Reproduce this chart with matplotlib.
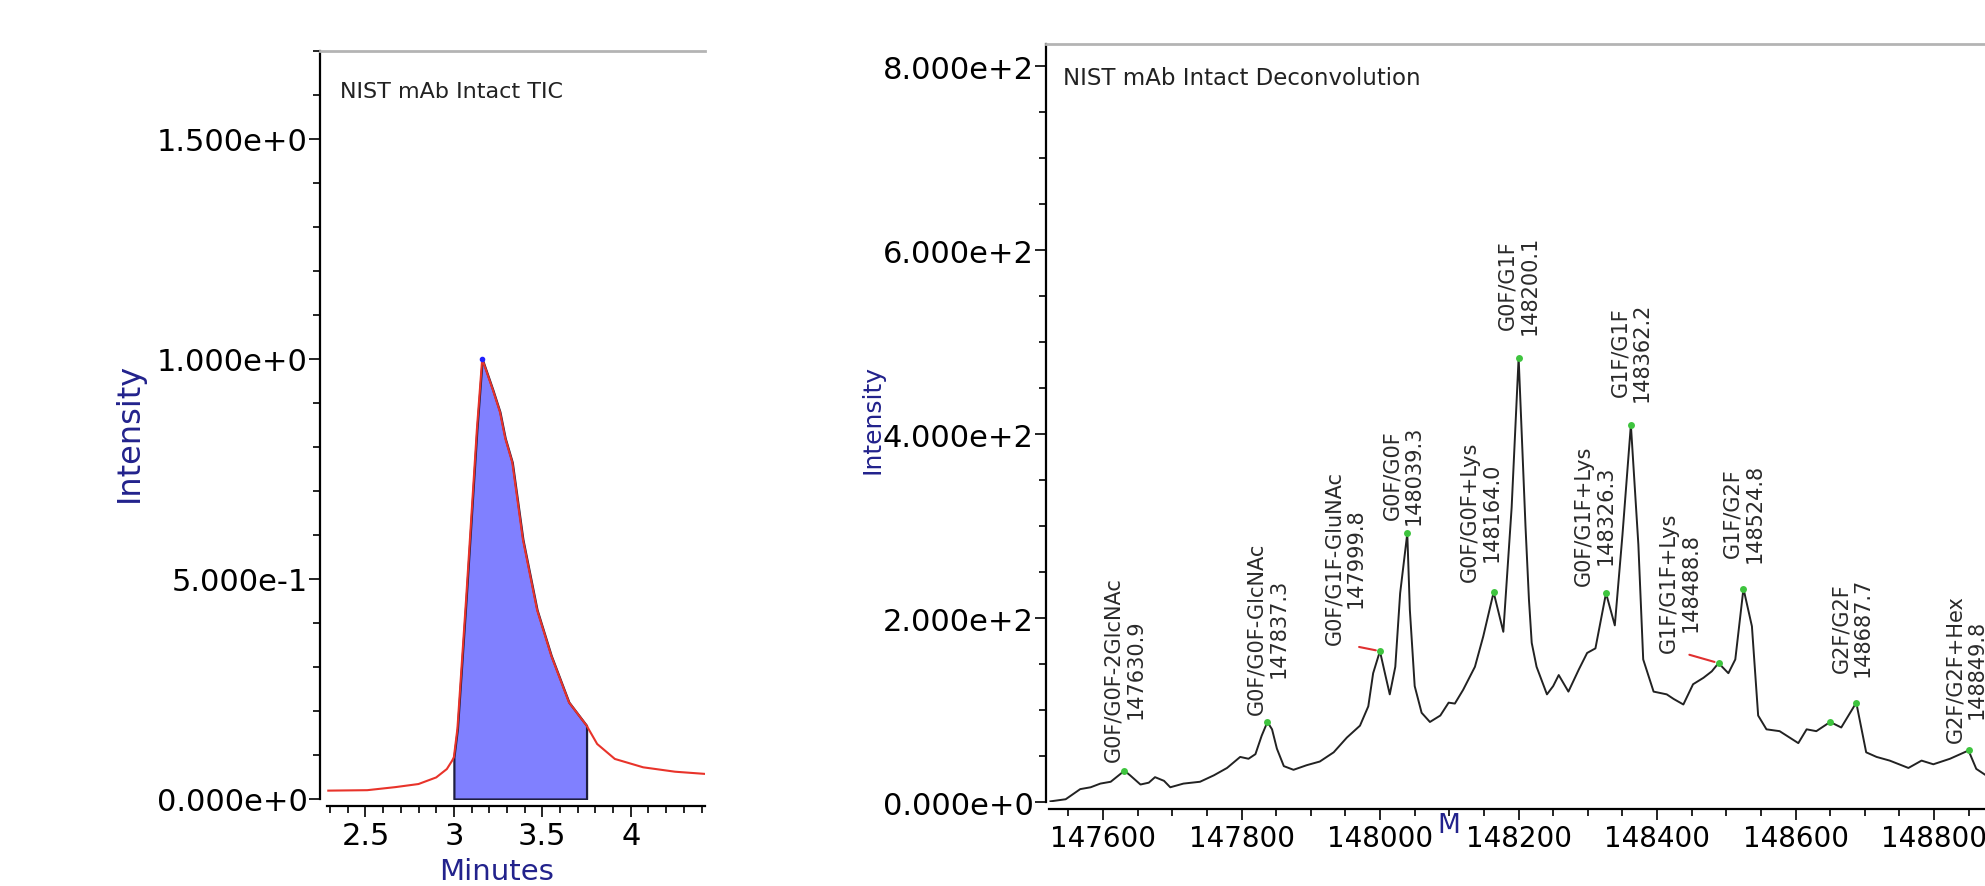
import numpy as np
import matplotlib
matplotlib.use('Agg')
import matplotlib.pyplot as plt
from matplotlib.ticker import MultipleLocator, FuncFormatter

# TIC chromatogram (minutes, relative intensity)
tic_time = [2.29, 2.51, 2.67, 2.80, 2.90, 2.96, 2.99, 3.00, 3.02, 3.07, 3.13, 3.16,
            3.22, 3.26, 3.29, 3.33, 3.39, 3.47, 3.55, 3.65, 3.75, 3.81, 3.91, 4.07,
            4.25, 4.42]
tic_int = [0.019, 0.020, 0.027, 0.034, 0.049, 0.068, 0.087, 0.095, 0.16, 0.46, 0.84, 1.00,
           0.93, 0.88, 0.82, 0.765, 0.59, 0.43, 0.326, 0.22, 0.167, 0.125, 0.091, 0.072,
           0.062, 0.057]
integ_start, integ_end = 3.00, 3.75

# deconvoluted mass spectrum
mass = [147524, 147546, 147567, 147582, 147596, 147611, 147630.9, 147639, 147654, 147666,
        147675, 147688, 147697, 147716, 147740, 147760, 147779, 147798, 147810, 147820,
        147829, 147837.3, 147844, 147851, 147861, 147875, 147894, 147913, 147933, 147952,
        147971, 147983, 147990, 147999.8, 148007, 148014, 148022, 148029, 148039.3, 148043,
        148050, 148060, 148072, 148087, 148099, 148108, 148120, 148137, 148149, 148164.0,
        148178, 148190, 148200.1, 148210, 148215, 148219, 148226, 148241, 148250, 148258,
        148272, 148287, 148299, 148311, 148326.3, 148339, 148350, 148362.2, 148373, 148380,
        148395, 148414, 148424, 148438, 148452, 148467, 148479, 148488.8, 148503, 148513,
        148524.8, 148537, 148546, 148558, 148577, 148604, 148616, 148630, 148650, 148666,
        148687.7, 148702, 148717, 148736, 148763, 148782, 148799, 148823, 148849.8, 148861,
        148875]
intensity = [0.7, 3, 14, 16, 20, 22, 34, 29, 19, 21,
             27, 23, 16, 20, 22, 29, 37, 49, 47, 52,
             72, 87, 79, 58, 39, 35, 40, 44, 54, 70,
             83, 104, 140, 164, 140, 117, 147, 227, 292, 209,
             126, 97, 87, 94, 108, 107, 122, 147, 180, 228,
             185, 320, 483, 300, 220, 173, 147, 117, 126, 138,
             120, 144, 162, 167, 227, 192, 290, 410, 280, 155,
             120, 117, 112, 106, 128, 135, 142, 151, 140, 155,
             232, 191, 94, 79, 77, 64, 79, 77, 87, 81,
             108, 54, 49, 45, 37, 45, 41, 47, 56, 36,
             29]

peak_names = ['G0F/G0F-2GlcNAc', 'G0F/G0F-GlcNAc', 'G0F/G1F-GluNAc', 'G0F/G0F',
              'G0F/G0F+Lys', 'G0F/G1F', 'G0F/G1F+Lys', 'G1F/G1F', 'G1F/G1F+Lys',
              'G1F/G2F', 'G2F/G2F', 'G2F/G2F+Hex']
peak_mass = [147630.9, 147837.3, 147999.8, 148039.3, 148164.0, 148200.1, 148326.3,
             148362.2, 148488.8, 148524.8, 148687.7, 148849.8]
peak_height = [34, 87, 164, 292, 228, 483, 227, 410, 151, 232, 108, 56]
extra_mass = [148650]
extra_height = [87]

# label offsets in points (dx, dy) and which labels get a leader line
label_off = [(0, 7), (0, 6), (-25, 5), (-3, 7), (-9, 8), (0, 17), (-8, 6), (0, 17),
             (-28, 8), (0, 19), (-3, 19), (-2, 6)]
leader = [False, False, True, False, False, False, False, False, True, False, False, False]

NAVY = '#22228c'


def sci(v, pos=None):
    if v == 0:
        return '0.000e+0'
    e = int(np.floor(np.log10(abs(v)) + 1e-9))
    return f'{v / 10 ** e:.3f}e{e:+d}'


def style_axes(ax, xmin_line, xsize, ysize):
    ax.spines['right'].set_visible(False)
    ax.spines['top'].set_color('#b4b4b4')
    ax.spines['top'].set_linewidth(2)
    ax.spines['left'].set_linewidth(1.6)
    ax.spines['bottom'].set_linewidth(1.6)
    ax.spines['bottom'].set_position(('outward', 5))
    ax.spines['bottom'].set_bounds(xmin_line, ax.get_xlim()[1])
    ax.tick_params(which='major', length=8, width=1.2)
    ax.tick_params(which='minor', length=5, width=1.2)
    ax.tick_params(axis='x', labelsize=xsize, pad=3)
    ax.tick_params(axis='y', labelsize=ysize, pad=1)
    ax.tick_params(top=False, right=False)
    ax.yaxis.set_major_formatter(FuncFormatter(sci))


fig = plt.figure(figsize=(19.85, 8.87), dpi=100)
ax1 = fig.add_axes([0.1612, 0.0981, 0.194, 0.8433])
ax2 = fig.add_axes([0.527, 0.0947, 0.473, 0.8546])

# ---- left: TIC ----
t = np.array(tic_time)
y = np.array(tic_int)
sel = (t >= integ_start) & (t <= integ_end)
ax1.fill_between(t[sel], y[sel], 0, facecolor='#8080ff', edgecolor='#1e1e40', lw=1.6)
ax1.plot(t, y, color='#e8332a', lw=1.5)
ipk = int(np.argmax(y))
ax1.plot(t[ipk], y[ipk], marker='o', ms=3, color='#2020ff')
ax1.set_xlim(2.243, 4.42)
ax1.set_ylim(0, 1.70)
ax1.xaxis.set_major_locator(MultipleLocator(0.5))
ax1.xaxis.set_minor_locator(MultipleLocator(0.1))
ax1.yaxis.set_major_locator(MultipleLocator(0.5))
ax1.yaxis.set_minor_locator(MultipleLocator(0.1))
ax1.xaxis.set_major_formatter(FuncFormatter(lambda v, p: f'{v:g}'))
style_axes(ax1, 2.28, 22, 22)
ax1.text(0.052, 0.9465, 'NIST mAb Intact TIC', transform=ax1.transAxes,
         fontsize=16, color='#222222', va='center', ha='left')

# ---- right: deconvolution ----
ax2.plot(mass, intensity, color='#222222', lw=1.4)
ax2.plot(peak_mass + extra_mass, peak_height + extra_height, 'o', ms=5,
         color='#3ec43e', mec='none', zorder=3)
for name, m, h, off, ld in zip(peak_names, peak_mass, peak_height, label_off, leader):
    txt = f'{name}\n{m:.1f}'
    kw = dict(xy=(m, h), xytext=off, textcoords='offset points', rotation=90,
              ha='center', va='bottom', multialignment='center', fontsize=15,
              color='#2a2a2a', linespacing=1.1, annotation_clip=False)
    if ld:
        kw['arrowprops'] = dict(arrowstyle='-', color='#e03030', lw=1.5,
                                shrinkA=0, shrinkB=3, relpos=(0.5, 0))
    ax2.annotate(txt, **kw)
ax2.set_xlim(147517.7, 148873.6)
ax2.set_ylim(0, 824)
ax2.xaxis.set_major_locator(MultipleLocator(200))
ax2.xaxis.set_minor_locator(MultipleLocator(50))
ax2.yaxis.set_major_locator(MultipleLocator(200))
ax2.yaxis.set_minor_locator(MultipleLocator(50))
ax2.xaxis.set_major_formatter(FuncFormatter(lambda v, p: f'{v:.0f}'))
style_axes(ax2, 147522, 20, 22)
ax2.text(0.018, 0.956, 'NIST mAb Intact Deconvolution', transform=ax2.transAxes,
         fontsize=16.5, color='#222222', va='center', ha='left')

# axis titles
fig.text(129 / 1985, 1 - 432 / 887, 'Intensity', rotation=90, ha='center', va='center',
         fontsize=23, color=NAVY)
fig.text(872 / 1985, 1 - 420 / 887, 'Intensity', rotation=90, ha='center', va='center',
         fontsize=18, color=NAVY)
fig.text(497 / 1985, 1 - 886 / 887, 'Minutes', ha='center', va='bottom',
         fontsize=21, color=NAVY)
fig.text(1449 / 1985, 1 - 826 / 887, 'M', ha='center', va='center',
         fontsize=19, color=NAVY)

fig.savefig('out.png', dpi=100)
